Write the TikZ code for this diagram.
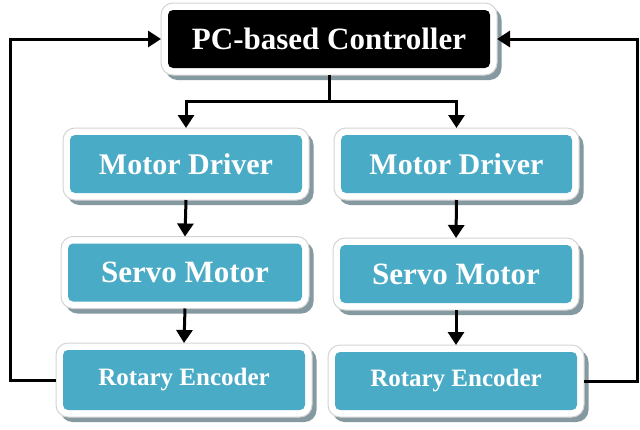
\documentclass[tikz,border=0pt]{standalone}
\usepackage{fontspec}
\setmainfont{Liberation Serif}
\usetikzlibrary{arrows.meta,backgrounds}
\definecolor{boxblue}{HTML}{49ABC6}
\definecolor{shadowgray}{HTML}{8499A0}
\definecolor{framegray}{HTML}{D4D4D4}
\tikzset{
  framed/.style={rectangle, rounded corners=12pt, outer sep=0pt, inner sep=0pt,
    fill=white, draw=framegray, line width=1pt, text=white},
  bluebox/.style={framed, minimum height=72pt,
    path picture={\fill[boxblue, rounded corners=5pt]
      ([shift={(7pt,7pt)}]path picture bounding box.south west) rectangle
      ([shift={(-7pt,-7pt)}]path picture bounding box.north east);}},
  blackbox/.style={framed, minimum height=72pt,
    path picture={\fill[black, rounded corners=5pt]
      ([shift={(7pt,7pt)}]path picture bounding box.south west) rectangle
      ([shift={(-7pt,-7pt)}]path picture bounding box.north east);}},
  shadowbox/.style={fill=shadowgray, rounded corners=12pt},
  bigfont/.style={font=\bfseries\fontsize{30}{32}\selectfont},
  encfont/.style={font=\bfseries\fontsize{25}{27}\selectfont},
  arr/.style={line width=3pt, -{Triangle[length=13pt,width=16pt]}},
  ln/.style={line width=3pt}
}
\begin{document}
\begin{tikzpicture}[x=1pt,y=-1pt]
\useasboundingbox (0,0) rectangle (640,429);
\node[blackbox, minimum width=336pt, font=\bfseries\fontsize{31}{33}\selectfont] (pc) at (329,39) {PC-based Controller};
\node[bluebox, minimum width=246pt, bigfont] (mdL) at (186,164) {Motor Driver};
\node[bluebox, minimum width=245pt, bigfont] (mdR) at (456.5,164) {Motor Driver};
\node[bluebox, minimum width=248pt, font=\bfseries\fontsize{31}{33}\selectfont] (smL) at (185,272.5) {Servo Motor};
\node[bluebox, minimum width=246pt, font=\bfseries\fontsize{31}{33}\selectfont] (smR) at (456,274) {Servo Motor};
\node[bluebox, minimum width=256pt, minimum height=74pt, encfont] (reL) at (184,380) {Rotary Encoder};
\node[bluebox, minimum width=256pt, encfont] (reR) at (456,381) {Rotary Encoder};
\begin{scope}[on background layer]
\fill[white] (0,0) rectangle (640,429);
\foreach \n in {pc,mdL,mdR,smL,smR,reL,reR}{
  \fill[shadowbox] ([shift={(4.5pt,-5pt)}]\n.south west) rectangle ([shift={(4.5pt,-5pt)}]\n.north east);
}
\end{scope}
\coordinate (split) at (329,101);
\coordinate (lt) at (10,39);
\coordinate (rt) at (637,39);
\draw[ln] (pc.south) -- (split);
\draw[arr] (split) -| (mdL.north);
\draw[arr] (split) -| (mdR.north);
\draw[arr] (mdL.south) -- (smL.north);
\draw[arr] (mdR.south) -- (smR.north);
\draw[arr] (smL.south) -- (reL.north);
\draw[arr] (smR.south) -- (reR.north);
\draw[arr] (reL.west) -- (reL.west -| lt) -- (lt) -- (pc.west);
\draw[arr] (reR.east) -- (reR.east -| rt) -- (rt) -- (pc.east);
\end{tikzpicture}
\end{document}
